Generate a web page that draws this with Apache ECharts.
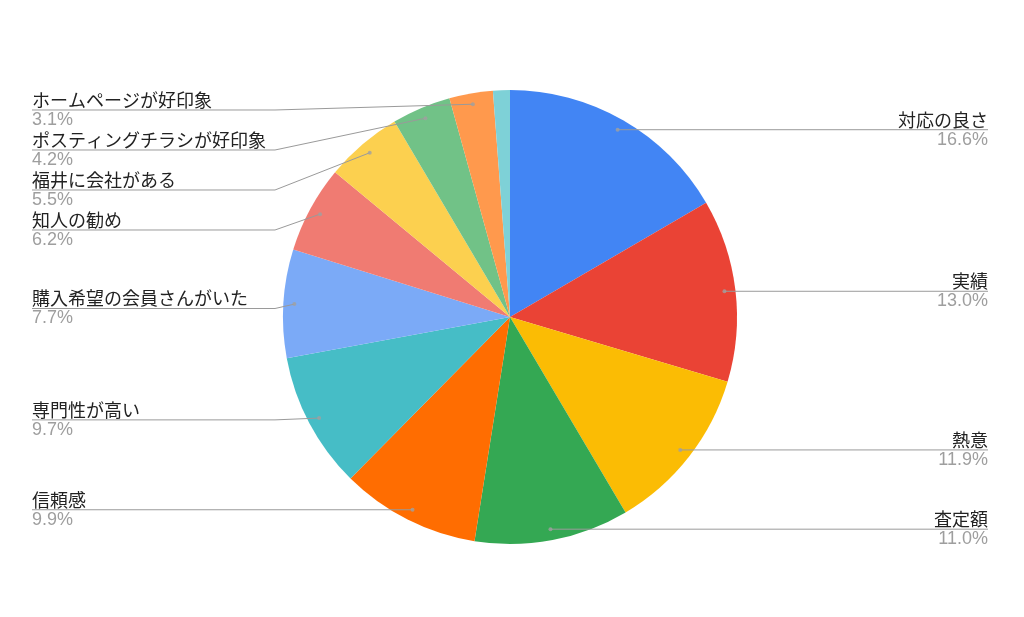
<!DOCTYPE html>
<html><head><meta charset="utf-8">
<script src="https://cdn.jsdelivr.net/npm/echarts@6/dist/echarts.min.js"></script>
<style>html,body{margin:0;padding:0;background:#fff}#c{width:1024px;height:617px}</style>
</head><body><div id="c"></div>
<script>
const categories = ['対応の良さ','実績','熱意','査定額','信頼感','専門性が高い','購入希望の会員さんがいた','知人の勧め','福井に会社がある','ポスティングチラシが好印象','ホームページが好印象','その他'];
const values = [16.6, 13.0, 11.9, 11.0, 9.9, 9.7, 7.7, 6.2, 5.5, 4.2, 3.1, 1.2];
const colors = ['#4285F4','#EA4335','#FBBC04','#34A853','#FF6D01','#46BDC6','#7BAAF7','#F07B72','#FCD04F','#71C287','#FF994D','#7ED1D7'];
const unlabeled = ['その他'];

const CX = 510, CY = 317, R = 227, RL = 216;
const box = {left: 0, right: 4, top: 90, bottom: 0};
const total = values.reduce((a, b) => a + b, 0);

const pieData = categories.map((n, i) => ({name: n, value: values[i], itemStyle: {color: colors[i]}}));
const labelData = categories.map((n, i) => ({
  name: n, value: values[i],
  itemStyle: {color: 'rgba(0,0,0,0)'},
  label: {show: unlabeled.indexOf(n) < 0},
  labelLine: {show: unlabeled.indexOf(n) < 0}
}));
// dots at label-line start: [radius, angle-in-percent] via polar scales
let acc = 0;
const dotData = [];
values.forEach((v, i) => {
  const mid = acc + v / 2; acc += v;
  if (unlabeled.indexOf(categories[i]) < 0) dotData.push([RL, mid / total * 100]);
});

const chart = echarts.init(document.getElementById('c'), null, {renderer: 'canvas'});
chart.setOption({
  animation: false,
  backgroundColor: '#fff',
  polar: {center: [CX, CY], radius: R},
  angleAxis: {type: 'value', min: 0, max: 100, startAngle: 90, clockwise: true, show: false},
  radiusAxis: {type: 'value', min: 0, max: R, show: false},
  series: [
    {
      type: 'pie', left: box.left, right: box.right, top: box.top, bottom: box.bottom,
      center: [CX - box.left, CY - box.top], radius: R, startAngle: 90, clockwise: true,
      data: pieData, label: {show: false}, labelLine: {show: false},
      itemStyle: {borderWidth: 0}, emphasis: {disabled: true}, silent: true, z: 1
    },
    {
      type: 'pie', left: box.left, right: box.right, top: box.top, bottom: box.bottom,
      center: [CX - box.left, CY - box.top], radius: RL, startAngle: 90, clockwise: true,
      data: labelData, emphasis: {disabled: true}, silent: true, z: 3,
      label: {
        show: true, position: 'outside', alignTo: 'edge', edgeDistance: 32,
        formatter: p => '{n|' + p.name + '}\n{p|' + p.percent.toFixed(1) + '%}',
        rich: {
          n: {fontFamily: '"Noto Sans CJK JP", "Noto Sans", sans-serif', fontSize: 18, color: '#222222', lineHeight: 20},
          p: {fontFamily: '"Liberation Sans", Arial, sans-serif', fontSize: 18, color: '#9e9e9e', lineHeight: 20}
        }
      },
      labelLine: {show: true, length: 0, length2: 10, lineStyle: {color: '#9a9a9a', width: 1}},
      labelLayout: function (p) {
        const pts = p.labelLinePoints;
        if (!pts) return {};
        const r = p.labelRect;
        const y = r.y + r.height / 2;
        const p0 = pts[0];
        if (p0[0] < CX) {
          return {labelLinePoints: [p0, [Math.min(p0[0], 275), y], [r.x, y]]};
        }
        return {labelLinePoints: [p0, [p0[0], y], [r.x + r.width, y]]};
      }
    },
    {
      type: 'scatter', coordinateSystem: 'polar', data: dotData, symbolSize: 4,
      itemStyle: {color: '#a0a0a0'}, silent: true, z: 4
    }
  ]
});
</script></body></html>
